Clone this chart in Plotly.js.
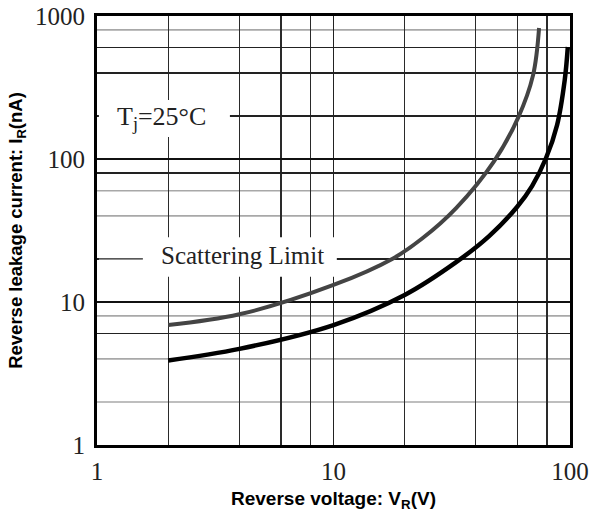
<!DOCTYPE html>
<html><head><meta charset="utf-8">
<script src="https://cdn.plot.ly/plotly-3.0.1.min.js"></script>
<style>html,body{margin:0;padding:0;background:#fff;}</style>
</head><body>
<div id="chart" style="width:591px;height:518px;"></div>
<script>
// Scattering limit (upper, gray) curve
const scatterV = [2, 4, 10, 17.7, 23.7, 33, 47.8, 60.3, 69.8, 74];
const scatterI = [6.9, 8.2, 13.15, 20, 27.8, 45.4, 96.8, 194, 386, 824];
// Typical (lower, black) curve
const typicalV = [2, 4, 10, 20, 33, 45.5, 59.7, 69.1, 79.2, 88.2, 95, 97.9];
const typicalI = [3.9, 4.7, 6.9, 11.2, 19, 28.9, 46.2, 64.7, 101.6, 173, 357, 607];

const xTickVals = [1, 10, 100];
const xTickText = ['1', '10', '100'];
const xGridMinor = [2, 4, 6, 8, 20, 40, 60, 80];
const yTickVals = [1, 10, 100, 1000];
const yTickText = ['1', '10', '100', '1000'];
const yGridDark = [6, 20, 80, 200, 400, 600];
const yGridLight = [2, 4, 8, 40, 60, 800];
const scatterLabelLevel = 20;

const serif = 'Liberation Serif, Times New Roman, serif';
const sans = 'Liberation Sans, Arial, sans-serif';

const traces = [
  {x: scatterV, y: scatterI, mode: 'lines', line: {color: '#444444', width: 4, shape: 'spline', smoothing: 1}, hoverinfo: 'skip'},
  {x: typicalV, y: typicalI, mode: 'lines', line: {color: '#000000', width: 4.5, shape: 'spline', smoothing: 1}, hoverinfo: 'skip'}
];

const shapes = [];
yGridLight.forEach(v => shapes.push({type: 'line', layer: 'below', xref: 'paper', x0: 0, x1: 1, yref: 'y', y0: v, y1: v, line: {color: '#a8a8a8', width: 1.6}}));
// white gaps behind labels
shapes.push({type: 'rect', layer: 'above', xref: 'paper', yref: 'paper', x0: 0.004, x1: 0.281, y0: 0.718, y1: 0.804, fillcolor: '#ffffff', line: {width: 0}});
shapes.push({type: 'rect', layer: 'above', xref: 'paper', yref: 'paper', x0: 0.004, x1: 0.507, y0: 0.392, y1: 0.484, fillcolor: '#ffffff', line: {width: 0}});
// scattering-limit leader line (gridline at 20 broken by the label)
shapes.push({type: 'line', layer: 'above', xref: 'paper', x0: 0, x1: 0.097, yref: 'y', y0: scatterLabelLevel, y1: scatterLabelLevel, line: {color: '#222', width: 1.3}});
shapes.push({type: 'line', layer: 'above', xref: 'paper', x0: 0.518, x1: 0.6, yref: 'y', y0: scatterLabelLevel, y1: scatterLabelLevel, line: {color: '#222', width: 1.3}});

const layout = {
  width: 591, height: 518,
  margin: {l: 97, r: 21, t: 16, b: 73},
  paper_bgcolor: '#ffffff', plot_bgcolor: '#ffffff',
  showlegend: false,
  xaxis: {
    type: 'log', range: [0, 2], tickmode: 'array', tickvals: xTickVals, ticktext: xTickText,
    showgrid: true, gridcolor: '#222222', gridwidth: 1.3,
    minor: {tickmode: 'array', tickvals: xGridMinor, showgrid: true, gridcolor: '#2a2a2a', gridwidth: 1.2, ticks: ''},
    showline: true, linecolor: '#000', linewidth: 3, mirror: true, ticks: '', zeroline: false,
    tickfont: {family: serif, size: 25, color: '#222'}, ticklabelstandoff: 2,
    title: {text: '<b>Reverse voltage: V<sub>R</sub>(V)</b>', font: {family: sans, size: 19, color: '#000'}, standoff: 8}
  },
  yaxis: {
    type: 'log', range: [0, 3], tickmode: 'array', tickvals: yTickVals, ticktext: yTickText,
    showgrid: true, gridcolor: '#111111', gridwidth: 1.6,
    minor: {tickmode: 'array', tickvals: yGridDark, showgrid: true, gridcolor: '#222222', gridwidth: 1.3, ticks: ''},
    showline: true, linecolor: '#000', linewidth: 3, mirror: true, ticks: '', zeroline: false,
    tickfont: {family: serif, size: 25, color: '#222'}, ticklabelstandoff: 4,
    title: {text: '<b>Reverse leakage current: I<sub>R</sub>(nA)</b>', font: {family: sans, size: 18.5, color: '#000'}, standoff: 8}
  },
  shapes: shapes,
  annotations: [
    {xref: 'paper', yref: 'paper', x: 0.137, y: 0.763, xanchor: 'center', yanchor: 'middle', text: 'T<sub>j</sub>=25°C', showarrow: false, font: {family: serif, size: 26, color: '#222'}},
    {xref: 'paper', yref: 'paper', x: 0.3066, y: 0.441, xanchor: 'center', yanchor: 'middle', text: 'Scattering Limit', showarrow: false, font: {family: serif, size: 25, color: '#222'}}
  ]
};

Plotly.newPlot('chart', traces, layout, {staticPlot: true, displayModeBar: false});
</script>
</body></html>
